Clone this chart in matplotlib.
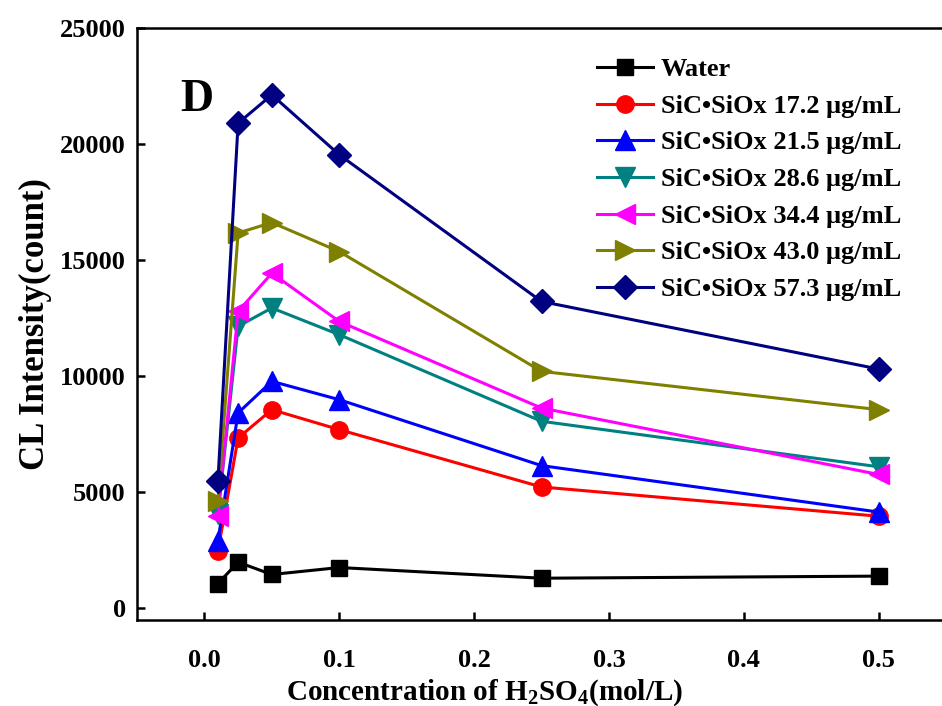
import matplotlib
matplotlib.use("Agg")
import matplotlib.pyplot as plt

plt.rcParams['font.family'] = ['Liberation Serif', 'DejaVu Serif']
plt.rcParams['font.weight'] = 'bold'
plt.rcParams['mathtext.fontset'] = 'custom'
plt.rcParams['mathtext.rm'] = 'Liberation Serif:bold'
plt.rcParams['mathtext.bf'] = 'Liberation Serif:bold'

conc = [0.01, 0.025, 0.05, 0.1, 0.25, 0.5]

water = [1070, 1990, 1460, 1760, 1300, 1390]
sic_17_2 = [2470, 7340, 8560, 7700, 5230, 3970]
sic_21_5 = [2900, 8420, 9780, 8990, 6150, 4150]
sic_28_6 = [4050, 12150, 12940, 11790, 8060, 6100]
sic_34_4 = [4000, 12790, 14440, 12360, 8630, 5770]
sic_43_0 = [4620, 16170, 16620, 15370, 10210, 8560]
sic_57_3 = [5480, 20900, 22120, 19540, 13220, 10310]

labels = ["Water",
          "SiC\u2022SiOx 17.2 \u03bcg/mL",
          "SiC\u2022SiOx 21.5 \u03bcg/mL",
          "SiC\u2022SiOx 28.6 \u03bcg/mL",
          "SiC\u2022SiOx 34.4 \u03bcg/mL",
          "SiC\u2022SiOx 43.0 \u03bcg/mL",
          "SiC\u2022SiOx 57.3 \u03bcg/mL"]
series = [water, sic_17_2, sic_21_5, sic_28_6, sic_34_4, sic_43_0, sic_57_3]
colors = ["#000000", "#FF0000", "#0000FF", "#008080", "#FF00FF", "#808000", "#000080"]
markers = ["s", "o", "^", "v", "<", ">", "D"]
msizes = [11, 12.5, 14, 14, 14, 14, 12]

fig = plt.figure(figsize=(9.42, 7.06), dpi=100)
ax = fig.add_axes([137/942, 86/706, (946-137)/942, (620-28)/706])

for y, lab, c, m, ms in zip(series, labels, colors, markers, msizes):
    ax.plot(conc, y, color=c, marker=m, markersize=ms, linewidth=2.2,
            markeredgecolor=c, label=lab)

ax.set_xlim(-0.05, 0.55)
ax.set_ylim(-500, 25000)
ax.set_xticks([0.0, 0.1, 0.2, 0.3, 0.4, 0.5])
ax.set_yticks([0, 5000, 10000, 15000, 20000, 25000])
ax.set_xticklabels(["0.0", "0.1", "0.2", "0.3", "0.4", "0.5"])
ax.tick_params(direction='in', length=6, width=1.8, labelsize=19)
ax.tick_params(axis='x', pad=21)
ax.tick_params(axis='y', pad=8)
for lab in ax.get_xticklabels() + ax.get_yticklabels():
    lab.set_fontweight('bold')
for s in ax.spines.values():
    s.set_linewidth(1.8)

ax.set_xlabel(r"Concentration of H$_2$SO$_4$(mol/L)", fontsize=21, fontweight='bold')
ax.xaxis.set_label_coords((485 - 137) / 809, -(677 - 620) / 592)
ax.set_ylabel("CL Intensity(count)", fontsize=25, fontweight='bold')
ax.yaxis.set_label_coords(-(137 - 52) / 809, 0.5)

ax.text(0.053, 0.878, "D", transform=ax.transAxes, fontsize=33, fontweight='bold',
        ha='left', va='center')

leg = ax.legend(loc='upper left', bbox_to_anchor=(0.569, 0.950), frameon=False,
                prop={'family': ['Liberation Serif', 'DejaVu Serif'], 'weight': 'bold', 'size': 19},
                handlelength=2.1, handletextpad=0.3, labelspacing=0.5, borderaxespad=0,
                borderpad=0)

fig.savefig("out.png", dpi=100)
